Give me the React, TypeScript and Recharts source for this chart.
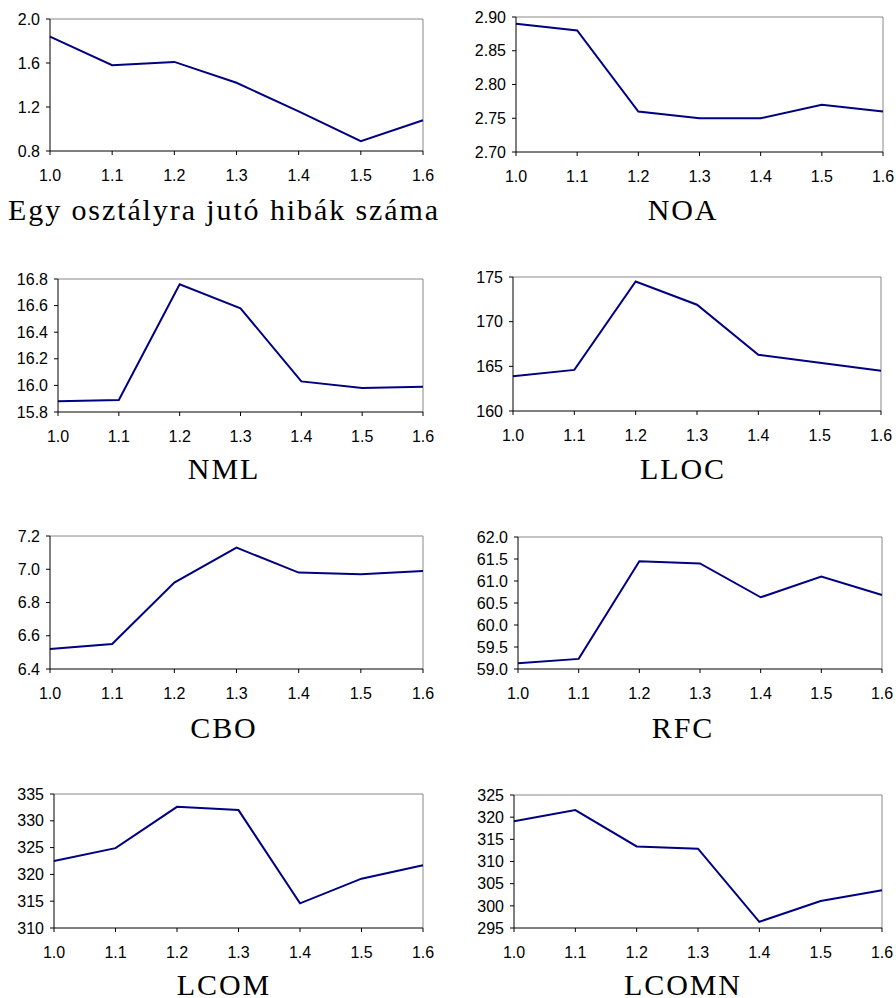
import React from "react";
import { LineChart, Line, XAxis, YAxis, ReferenceLine } from "recharts";

// versions on the x axis
const versions = [1.0, 1.1, 1.2, 1.3, 1.4, 1.5, 1.6];

// metric values per version
const bugsPerClass = [1.84, 1.58, 1.61, 1.42, 1.16, 0.89, 1.08];
const noa = [2.89, 2.88, 2.76, 2.75, 2.75, 2.77, 2.76];
const nml = [15.88, 15.89, 16.76, 16.58, 16.03, 15.98, 15.99];
const lloc = [163.9, 164.6, 174.5, 171.9, 166.3, 165.4, 164.5];
const cbo = [6.52, 6.55, 6.92, 7.13, 6.98, 6.97, 6.99];
const rfc = [59.13, 59.23, 61.45, 61.4, 60.63, 61.1, 60.68];
const lcom = [322.5, 324.9, 332.6, 332.0, 314.6, 319.2, 321.7];
const lcomn = [319.1, 321.6, 313.4, 312.9, 296.4, 301.1, 303.5];

// y tick labels
const bugTicks = [0.8, 1.2, 1.6, 2.0];
const noaTicks = [2.7, 2.75, 2.8, 2.85, 2.9];
const nmlTicks = [15.8, 16.0, 16.2, 16.4, 16.6, 16.8];
const llocTicks = [160, 165, 170, 175];
const cboTicks = [6.4, 6.6, 6.8, 7.0, 7.2];
const rfcTicks = [59, 59.5, 60, 60.5, 61, 61.5, 62];
const lcomTicks = [310, 315, 320, 325, 330, 335];
const lcomnTicks = [295, 300, 305, 310, 315, 320, 325];

const NAVY = "#000080";
const BORDER = "#888888";
const tickStyle = { fill: "#000", fontSize: 16, fontFamily: "'Liberation Sans', Arial, sans-serif" };

type Box = { left: number; top: number; right: number; bottom: number };

function Panel({ values, ticks, digits, box, colLeft }: { values: number[]; ticks: number[]; digits: number; box: Box; colLeft: number }) {
  const data = versions.map((v, i) => ({ v, y: values[i] }));
  const colWidth = 448;
  const yw = box.left - colLeft;
  const right = colLeft + colWidth - box.right;
  const height = box.bottom - box.top + 50;
  const yMax = ticks[ticks.length - 1];
  return (
    <div style={{ position: "absolute", left: colLeft, top: box.top - 10 }}>
      <LineChart width={colWidth} height={height} data={data} margin={{ top: 10, right, left: 0, bottom: 0 }}>
        <XAxis
          dataKey="v"
          type="number"
          domain={[1.0, 1.6]}
          ticks={versions}
          interval={0}
          tickFormatter={(v: number) => v.toFixed(1)}
          height={40}
          stroke="#000"
          tickSize={4}
          tickMargin={15}
          tick={tickStyle}
        />
        <YAxis
          type="number"
          domain={[ticks[0], yMax]}
          ticks={ticks}
          interval={0}
          tickFormatter={(v: number) => v.toFixed(digits)}
          width={yw}
          stroke="#000"
          tickSize={4}
          tickMargin={6}
          tick={tickStyle}
        />
        <ReferenceLine y={yMax} stroke={BORDER} />
        <ReferenceLine x={1.6} stroke={BORDER} />
        <Line type="linear" dataKey="y" stroke={NAVY} strokeWidth={2} dot={false} isAnimationActive={false} />
      </LineChart>
    </div>
  );
}

const titleStyle = { fontFamily: "'Liberation Serif', 'Times New Roman', serif", fontSize: 30, letterSpacing: 1.9 };

export default function App() {
  return (
    <div style={{ position: "absolute", left: 0, top: 0, width: 896, height: 998, background: "#fff", overflow: "hidden" }}>
      <Panel values={bugsPerClass} ticks={bugTicks} digits={1} colLeft={0} box={{ left: 50, top: 19, right: 423, bottom: 151 }} />
      <Panel values={noa} ticks={noaTicks} digits={2} colLeft={448} box={{ left: 516, top: 17, right: 883, bottom: 152 }} />
      <Panel values={nml} ticks={nmlTicks} digits={1} colLeft={0} box={{ left: 58, top: 279, right: 423, bottom: 412 }} />
      <Panel values={lloc} ticks={llocTicks} digits={0} colLeft={448} box={{ left: 513, top: 277, right: 881, bottom: 411 }} />
      <Panel values={cbo} ticks={cboTicks} digits={1} colLeft={0} box={{ left: 50, top: 536, right: 423, bottom: 669 }} />
      <Panel values={rfc} ticks={rfcTicks} digits={1} colLeft={448} box={{ left: 518, top: 537, right: 882, bottom: 669 }} />
      <Panel values={lcom} ticks={lcomTicks} digits={0} colLeft={0} box={{ left: 54, top: 794, right: 423, bottom: 928 }} />
      <Panel values={lcomn} ticks={lcomnTicks} digits={0} colLeft={448} box={{ left: 514, top: 795, right: 882, bottom: 928 }} />
      <svg width={896} height={998} style={{ position: "absolute", left: 0, top: 0, pointerEvents: "none" }}>
        <g style={titleStyle} fill="#000" textAnchor="middle">
          <text x={224} y={220}>Egy osztályra jutó hibák száma</text>
          <text x={683} y={220}>NOA</text>
          <text x={224} y={479}>NML</text>
          <text x={683} y={479}>LLOC</text>
          <text x={224} y={738}>CBO</text>
          <text x={683} y={738}>RFC</text>
          <text x={224} y={995}>LCOM</text>
          <text x={683} y={995}>LCOMN</text>
        </g>
      </svg>
    </div>
  );
}
